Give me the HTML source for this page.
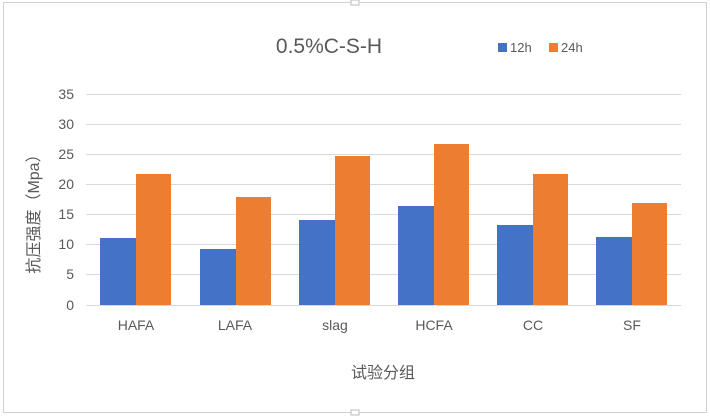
<!DOCTYPE html>
<html><head><meta charset="utf-8"><style>
body{margin:0;background:#fff;}
svg{display:block;font-family:"Liberation Sans","Noto Sans CJK SC",sans-serif;}
</style></head><body>
<svg width="710" height="416" viewBox="0 0 710 416">
<rect x="3.5" y="2.5" width="703" height="410" fill="#fff" stroke="#d0d0d0"/>
<rect x="351" y="0" width="8" height="5" fill="#fff" stroke="#bbb"/>
<rect x="351" y="410" width="8" height="5" fill="#fff" stroke="#bbb"/>
<text x="329" y="53" font-size="21" fill="#595959" text-anchor="middle">0.5%C-S-H</text>
<rect x="498" y="43" width="9" height="9" fill="#4472c4"/>
<text x="510" y="52" font-size="13" fill="#595959">12h</text>
<rect x="549" y="43" width="9" height="9" fill="#ed7d31"/>
<text x="561" y="52" font-size="13" fill="#595959">24h</text>
<g stroke="#d9d9d9" stroke-width="1">
<line x1="86" x2="681" y1="94.5" y2="94.5"/>
<line x1="86" x2="681" y1="124.5" y2="124.5"/>
<line x1="86" x2="681" y1="154.5" y2="154.5"/>
<line x1="86" x2="681" y1="184.5" y2="184.5"/>
<line x1="86" x2="681" y1="214.5" y2="214.5"/>
<line x1="86" x2="681" y1="244.5" y2="244.5"/>
<line x1="86" x2="681" y1="274.5" y2="274.5"/>
<line x1="86" x2="681" y1="305.5" y2="305.5"/>
</g>
<g font-size="14" fill="#595959" text-anchor="end">
<text x="74" y="99">35</text><text x="74" y="129">30</text><text x="74" y="159">25</text>
<text x="74" y="189">20</text><text x="74" y="219">15</text><text x="74" y="249">10</text>
<text x="74" y="279">5</text><text x="74" y="310">0</text>
</g>
<g fill="#4472c4">
<rect x="100" y="238" width="36" height="67"/>
<rect x="200" y="249" width="36" height="56"/>
<rect x="299" y="220" width="36" height="85"/>
<rect x="398" y="206" width="36" height="99"/>
<rect x="497" y="225" width="36" height="80"/>
<rect x="596" y="237" width="36" height="68"/>
</g>
<g fill="#ed7d31">
<rect x="136" y="174" width="35" height="131"/>
<rect x="236" y="197" width="35" height="108"/>
<rect x="335" y="156" width="35" height="149"/>
<rect x="434" y="144" width="35" height="161"/>
<rect x="533" y="174" width="35" height="131"/>
<rect x="632" y="203" width="35" height="102"/>
</g>
<g font-size="14" fill="#595959" text-anchor="middle">
<text x="136" y="330">HAFA</text><text x="235" y="330">LAFA</text><text x="335" y="330">slag</text>
<text x="434" y="330">HCFA</text><text x="533" y="330">CC</text><text x="632" y="330">SF</text>
</g>
<text x="383" y="378" font-size="16" fill="#595959" text-anchor="middle">试验分组</text>
<text transform="translate(39,210) rotate(-90)" font-size="16" fill="#595959" text-anchor="middle">抗压强度（Mpa）</text>
</svg>
</body></html>
